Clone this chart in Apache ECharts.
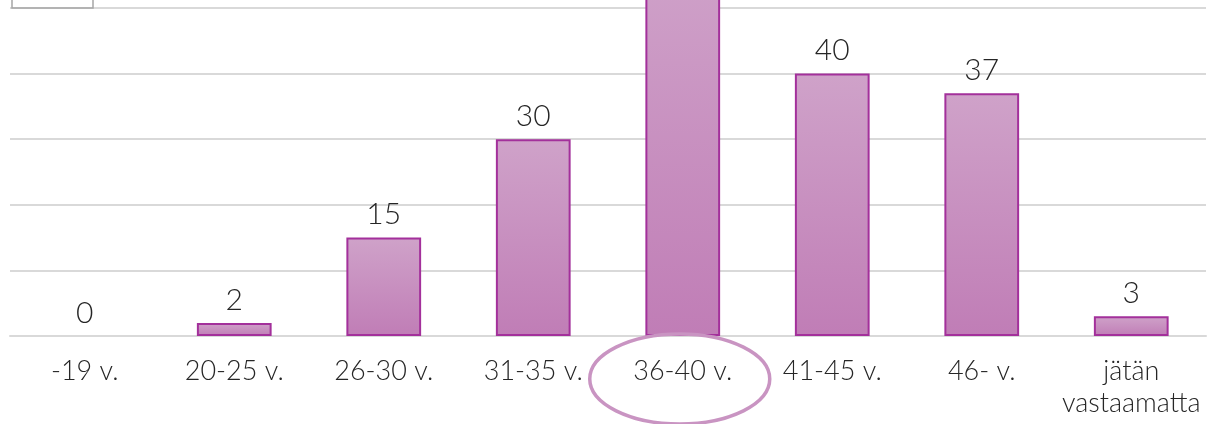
<!DOCTYPE html>
<html><head><meta charset="utf-8">
<script src="https://cdn.jsdelivr.net/npm/echarts@6/dist/echarts.min.js"></script>
<style>html,body{margin:0;padding:0;background:#fff}#c{width:1209px;height:424px}</style>
</head><body><div id="c"></div>
<script>
const categories = ['-19 v.', '20-25 v.', '26-30 v.', '31-35 v.', '36-40 v.', '41-45 v.', '46- v.', 'jätän\nvastaamatta'];
const counts = [0, 2, 15, 30, 57, 40, 37, 3];
const highlightCategory = '36-40 v.';

const chart = echarts.init(document.getElementById('c'));
const font = 'Lato, "Open Sans", sans-serif';
chart.setOption({
  animation: false,
  grid: { left: 10, right: 3, top: 8, bottom: 88, containLabel: false },
  xAxis: {
    type: 'category', data: categories,
    axisLine: { show: true, lineStyle: { color: '#D9D9D9', width: 2 } },
    axisTick: { show: false },
    axisLabel: { color: '#262626', fontFamily: font, fontWeight: 300, fontSize: 27, margin: 19, lineHeight: 32, interval: 0 }
  },
  yAxis: {
    type: 'value', min: 0, max: 50, interval: 10,
    axisLabel: { show: false }, axisLine: { show: false }, axisTick: { show: false },
    splitLine: { lineStyle: { color: '#D9D9D9', width: 2 } }
  },
  series: [{
    type: 'bar', clip: false, barWidth: '50%',
    data: counts.map(v => v === 0 ? { value: v, itemStyle: { borderWidth: 0 } } : v),
    itemStyle: {
      color: new echarts.graphic.LinearGradient(0, 0, 0, 1, [
        { offset: 0, color: '#CFA2C9' }, { offset: 1, color: '#C07DB6' }
      ]),
      borderColor: '#A3309B', borderWidth: 2
    },
    label: { show: true, position: 'top', distance: 8, color: '#262626', fontFamily: font, fontWeight: 300, fontSize: 30 }
  }]
});
const cx = chart.convertToPixel({ xAxisIndex: 0 }, highlightCategory);
chart.setOption({
  graphic: [
    { type: 'rect', shape: { x: 12, y: -30, width: 81, height: 38 }, style: { fill: 'none', stroke: '#A6A6A6', lineWidth: 1.5 } },
    { type: 'ellipse', shape: { cx: cx - 3, cy: 379, rx: 90, ry: 45 }, style: { fill: 'none', stroke: '#C994C2', lineWidth: 3.5 }, z: 100 }
  ]
});
</script></body></html>
